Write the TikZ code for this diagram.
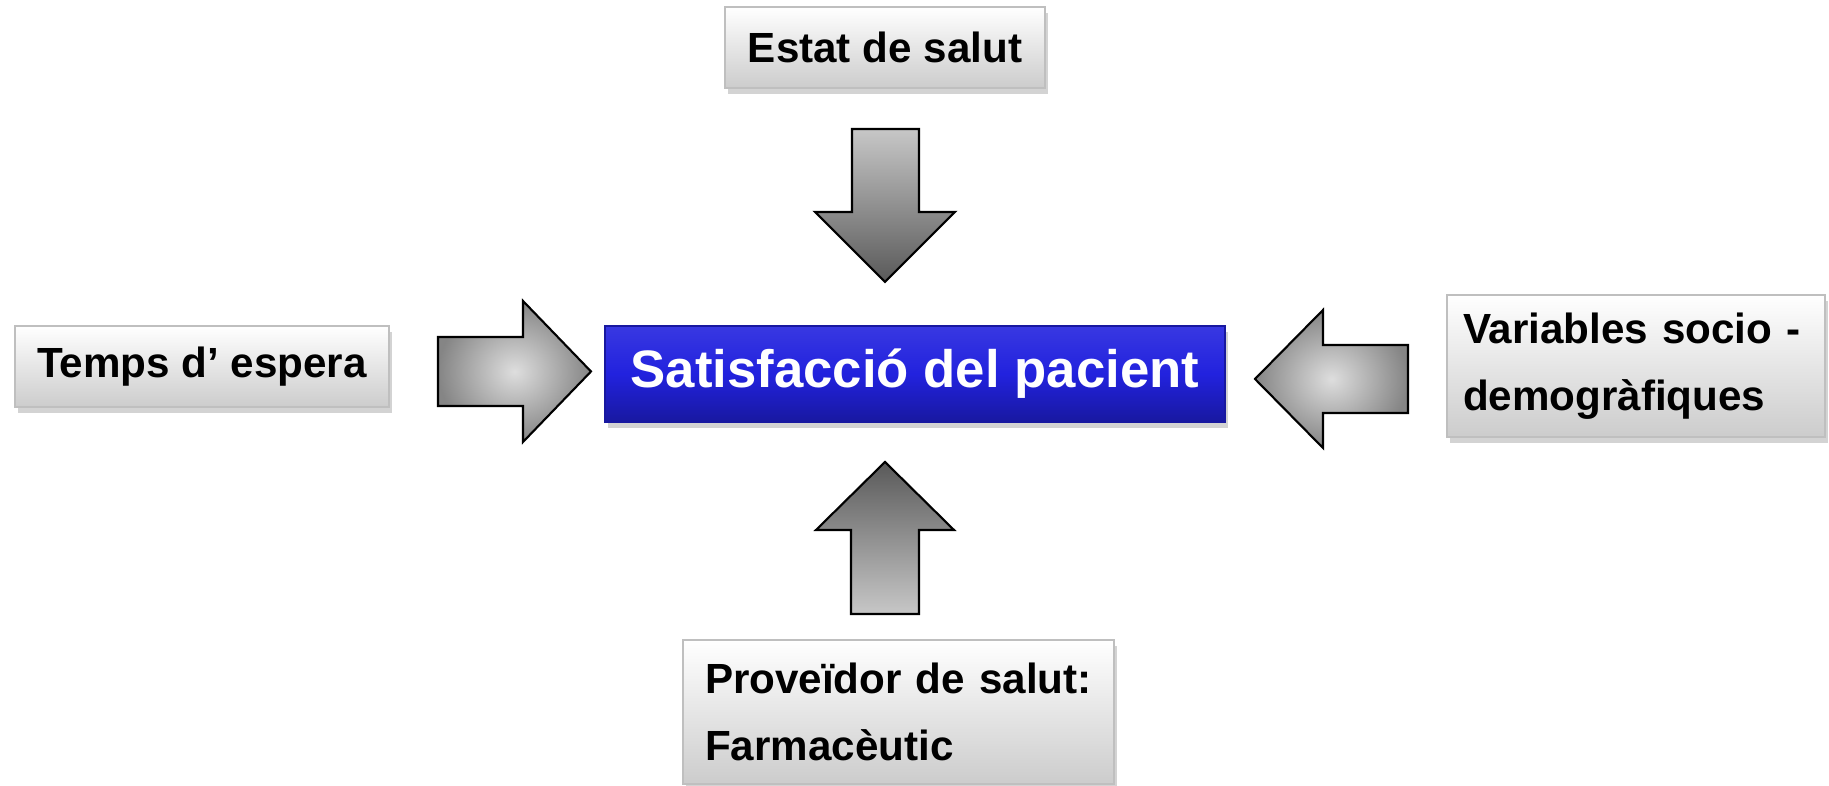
\documentclass[tikz,border=0pt]{standalone}
\usepackage{fontspec}
\setmainfont{Liberation Sans}
\usetikzlibrary{shadows}

\definecolor{boxblue}{RGB}{34,34,222}
\definecolor{boxbluedark}{RGB}{24,24,160}

\begin{document}
\begin{tikzpicture}[line join=miter]
	\tikzstyle{factor}=[draw=black!25, top color=white, bottom color=black!20, drop shadow={opacity=0.35, shadow xshift=0.03, shadow yshift=-0.06}, font=\fontsize{12}{19}\selectfont\bfseries, inner sep=0pt]
	\tikzstyle{target}=[draw=boxbluedark, top color=boxblue!90!white, bottom color=boxbluedark, middle color=boxblue, drop shadow={opacity=0.35, shadow xshift=0.03, shadow yshift=-0.06}, text=white, font=\fontsize{15}{18}\selectfont\bfseries, inner sep=0pt]
	\tikzstyle{vblock}=[draw=black, line width=0.6pt]
	\tikzstyle{hblock}=[draw=black, line width=0.6pt, inner color=black!13, outer color=black!48]
	
	\useasboundingbox (0,0) rectangle (18.29,7.86);
	
	\node[factor, minimum width=3.2cm, minimum height=0.81cm](estat) at (8.85,7.385){Estat de salut};
	\node[factor, minimum width=3.74cm, minimum height=0.81cm](temps) at (2.02,4.195){Temps d’ espera};
	\node[target, minimum width=6.2cm, minimum height=0.96cm](satis) at (9.15,4.12){Satisfacció del pacient};
	\node[factor, minimum height=1.42cm, text width=3.46cm, inner xsep=0.16cm, align=left](socio) at (16.36,4.20){Variables socio -\\demogràfiques};
	\node[factor, minimum height=1.44cm, text width=3.87cm, inner xsep=0.22cm, align=left](prov) at (8.985,0.74){Proveïdor de salut:\\Farmacèutic};
	
	% block arrows
	\draw[vblock, top color=black!22, bottom color=black!65] (8.52,6.57) -- (9.19,6.57) -- (9.19,5.74) -- (9.55,5.74) -- (8.85,5.04) -- (8.15,5.74) -- (8.52,5.74) -- cycle;
	\draw[vblock, top color=black!65, bottom color=black!22] (8.85,3.24) -- (9.54,2.56) -- (9.19,2.56) -- (9.19,1.72) -- (8.51,1.72) -- (8.51,2.56) -- (8.16,2.56) -- cycle;
	\draw[hblock] (4.38,4.49) -- (5.23,4.49) -- (5.23,4.85) -- (5.91,4.145) -- (5.23,3.44) -- (5.23,3.80) -- (4.38,3.80) -- cycle;
	\draw[hblock] (14.08,4.41) -- (13.23,4.41) -- (13.23,4.76) -- (12.55,4.07) -- (13.23,3.38) -- (13.23,3.73) -- (14.08,3.73) -- cycle;
	
\end{tikzpicture}
\end{document}
